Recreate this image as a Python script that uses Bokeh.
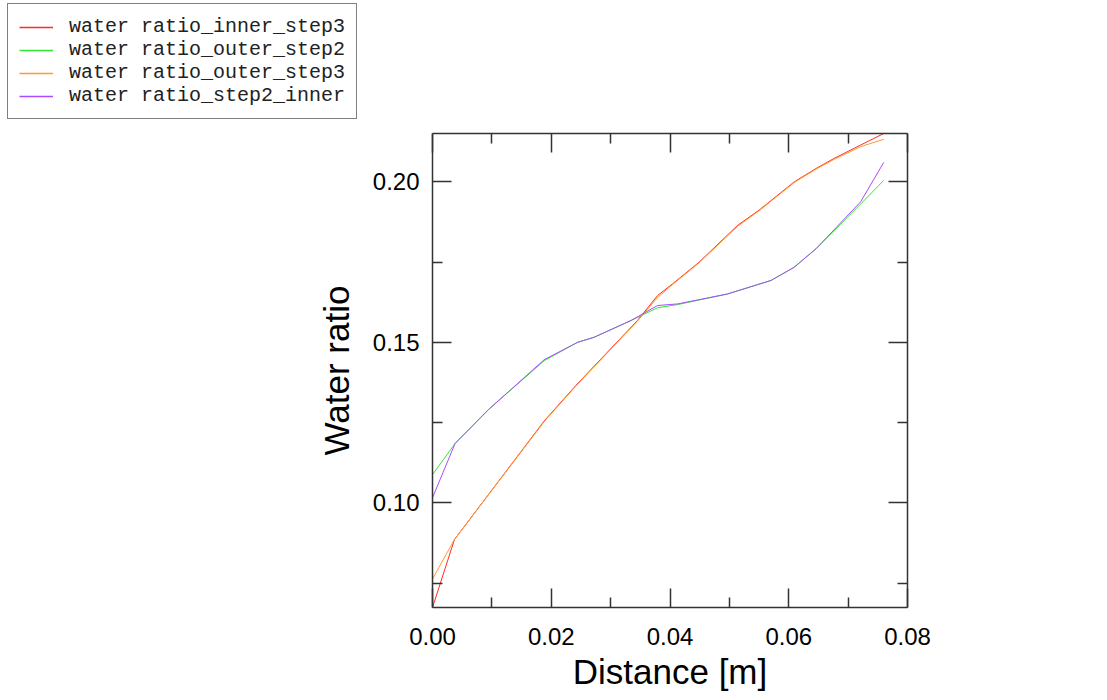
from bokeh.plotting import figure
from bokeh.layouts import column, row
from bokeh.models import (Range1d, LinearAxis, FixedTicker, NumeralTickFormatter,
                          CustomJSTickFormatter, Legend, LegendItem)
from bokeh.embed import file_html
from bokeh.resources import INLINE

# ---- data ----
x_inner_step3 = [0.0, 0.0037, 0.0188, 0.0241, 0.0345, 0.0379, 0.0404, 0.0449, 0.0514, 0.0550, 0.0609, 0.0646, 0.0676, 0.0721, 0.0760]
y_inner_step3 = [0.0674, 0.0886, 0.1255, 0.1365, 0.1568, 0.1646, 0.1682, 0.1750, 0.1865, 0.1912, 0.2000, 0.2042, 0.2073, 0.2115, 0.2151]

x_outer_step3 = [0.0, 0.0037, 0.0188, 0.0241, 0.0345, 0.0379, 0.0404, 0.0449, 0.0514, 0.0550, 0.0609, 0.0646, 0.0676, 0.0721, 0.0760]
y_outer_step3 = [0.0763, 0.0886, 0.1253, 0.1363, 0.1566, 0.1640, 0.1680, 0.1748, 0.1862, 0.1910, 0.1998, 0.2040, 0.2070, 0.2110, 0.2133]

x_outer_step2 = [0.0, 0.0038, 0.0095, 0.0188, 0.0244, 0.0272, 0.0334, 0.0379, 0.0413, 0.0497, 0.0570, 0.0609, 0.0646, 0.0721, 0.0760]
y_outer_step2 = [0.1088, 0.1185, 0.1292, 0.1443, 0.1500, 0.1516, 0.1568, 0.1608, 0.1618, 0.1651, 0.1693, 0.1734, 0.1792, 0.1931, 0.2005]

x_step2_inner = [0.0, 0.0038, 0.0095, 0.0188, 0.0244, 0.0272, 0.0334, 0.0379, 0.0413, 0.0497, 0.0570, 0.0609, 0.0646, 0.0721, 0.0760]
y_step2_inner = [0.1016, 0.1185, 0.1292, 0.1446, 0.1500, 0.1516, 0.1568, 0.1615, 0.1620, 0.1651, 0.1693, 0.1734, 0.1792, 0.1938, 0.2061]

series_names = ["water ratio_inner_step3", "water ratio_outer_step2",
                "water ratio_outer_step3", "water ratio_step2_inner"]
series_colors = ["#ff2a2a", "#33e633", "#ff9a2e", "#a64dff"]

x_major = [0.0, 0.02, 0.04, 0.06, 0.08]
x_minor = [0.01, 0.03, 0.05, 0.07]
y_major = [0.10, 0.15, 0.20]
y_minor = [0.075, 0.125, 0.175]

AX = "#333333"

xs = [x_inner_step3, x_outer_step2, x_outer_step3, x_step2_inner]
ys = [y_inner_step3, y_outer_step2, y_outer_step3, y_step2_inner]

# ---------- main plot ----------
p = figure(width=1107, height=575, output_backend="svg", toolbar_location=None,
           x_range=Range1d(0.0, 0.08), y_range=Range1d(0.0674, 0.2151),
           min_border_left=432, min_border_right=200, min_border_top=8,
           min_border_bottom=93, x_axis_location=None, y_axis_location=None)
p.grid.visible = False
p.outline_line_color = None
p.background_fill_color = "white"
p.border_fill_color = "white"

def style(ax, labels=True):
    ax.axis_line_color = AX
    ax.axis_line_width = 1.5
    ax.major_tick_line_color = AX
    ax.minor_tick_line_color = AX
    ax.major_tick_line_width = 1.5
    ax.minor_tick_line_width = 1.5
    ax.major_tick_in = 19
    ax.major_tick_out = 0
    ax.minor_tick_in = 10
    ax.minor_tick_out = 0
    ax.major_label_text_font = "Liberation Sans"
    ax.major_label_text_font_size = "24px"
    ax.major_label_text_color = "black"
    if not labels:
        ax.formatter = CustomJSTickFormatter(code="return ''")

xb = LinearAxis(ticker=FixedTicker(ticks=x_major, minor_ticks=x_minor),
                formatter=NumeralTickFormatter(format="0.00"),
                axis_label="Distance [m]")
style(xb)
xb.major_label_standoff = 20
xb.axis_label_standoff = 4
xb.axis_label_text_font = "Liberation Sans"
xb.axis_label_text_font_size = "35px"
xb.axis_label_text_font_style = "normal"
xb.axis_label_text_color = "black"
p.add_layout(xb, "below")

xt = LinearAxis(ticker=FixedTicker(ticks=x_major, minor_ticks=x_minor))
style(xt, labels=False)
p.add_layout(xt, "above")

yl = LinearAxis(ticker=FixedTicker(ticks=y_major, minor_ticks=y_minor),
                formatter=NumeralTickFormatter(format="0.00"),
                axis_label="Water ratio")
style(yl)
yl.major_label_standoff = 13
yl.axis_label_standoff = 14
yl.axis_label_text_font = "Liberation Sans"
yl.axis_label_text_font_size = "35px"
yl.axis_label_text_font_style = "normal"
yl.axis_label_text_color = "black"
p.add_layout(yl, "left")

yr = LinearAxis(ticker=FixedTicker(ticks=y_major, minor_ticks=y_minor))
style(yr, labels=False)
p.add_layout(yr, "right")

for xv, yv, c in zip(xs, ys, series_colors):
    p.line(xv, yv, line_color=c, line_width=1)

# ---------- legend strip (top-left) ----------
lg = figure(width=1107, height=125, output_backend="svg", toolbar_location=None,
            x_range=Range1d(10, 11), y_range=Range1d(10, 11),
            min_border=0, x_axis_location=None, y_axis_location=None)
lg.grid.visible = False
lg.outline_line_color = None
lg.background_fill_color = "white"
lg.border_fill_color = "white"

leg_renderers = []
for xv, yv, c in zip(xs, ys, series_colors):
    leg_renderers.append(lg.line(xv, yv, line_color=c, line_width=1.5))

items = [LegendItem(label=n, renderers=[r]) for n, r in zip(series_names, leg_renderers)]
legend = Legend(items=items, location=(7, 6))
legend.label_text_font = "Liberation Mono"
legend.label_text_font_size = "20px"
legend.label_text_color = "#222222"
legend.glyph_width = 34
legend.glyph_height = 20
legend.label_height = 20
legend.label_standoff = 16
legend.spacing = 0
legend.padding = 11
legend.margin = 0
legend.border_line_color = "black"
legend.border_line_width = 1
legend.background_fill_color = "white"
legend.background_fill_alpha = 1
lg.add_layout(legend, "center")

layout = column(row(lg), row(p), spacing=0)
open("out.html", "w").write(file_html(layout, INLINE))
